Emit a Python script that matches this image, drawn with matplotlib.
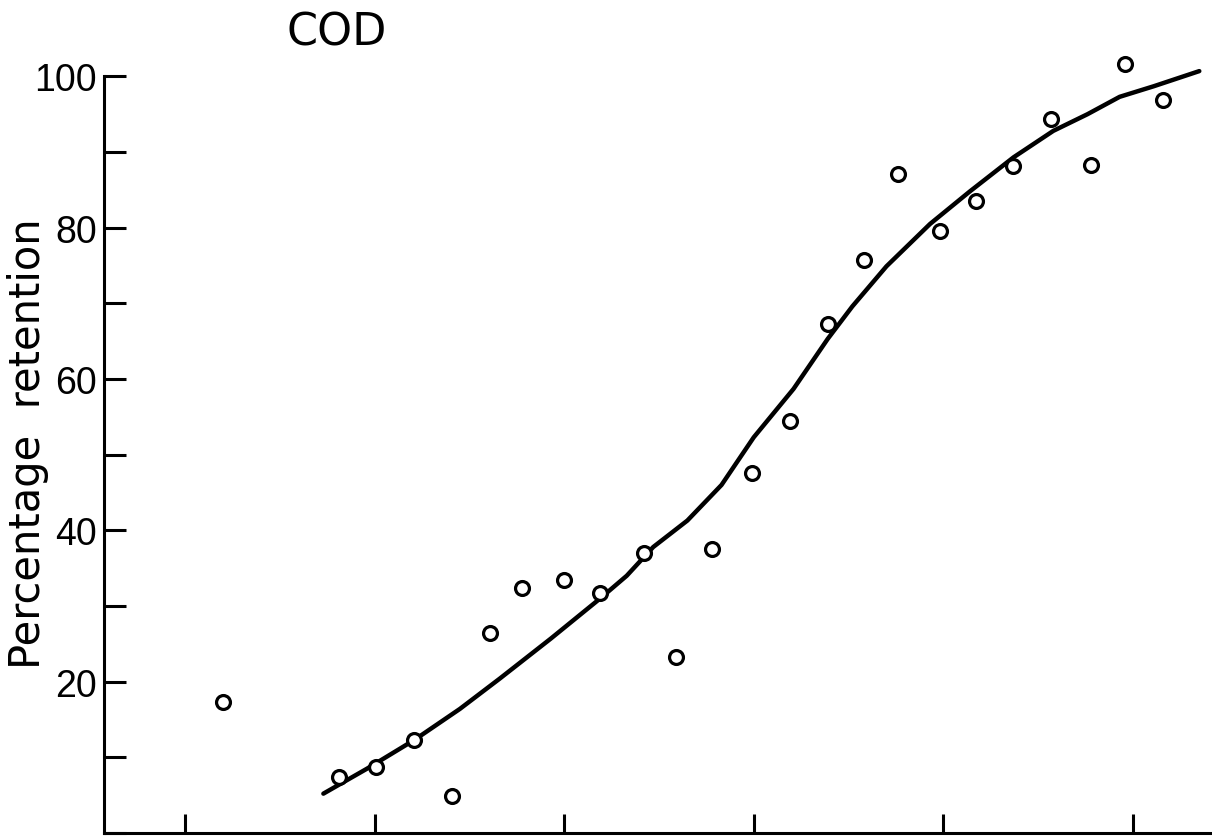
import numpy as np
import matplotlib
matplotlib.use("Agg")
import matplotlib.pyplot as plt
from matplotlib.ticker import MultipleLocator, NullFormatter

# measured points (x in tick units, ticks unlabelled in the original)
obs_x = [1.20, 1.81, 2.01, 2.21, 2.41, 2.61, 2.78, 3.00, 3.19, 3.42, 3.59, 3.78,
         3.99, 4.19, 4.39, 4.58, 4.76, 4.98, 5.17, 5.37, 5.57, 5.78, 5.96, 6.16]
obs_y = [17.3, 7.4, 8.7, 12.3, 4.9, 26.4, 32.4, 33.4, 31.7, 37.0, 23.3, 37.5,
         47.6, 54.4, 67.3, 75.7, 87.1, 79.6, 83.5, 88.1, 94.4, 88.3, 101.6, 96.9]

# fitted curve
fit_x = [1.73, 1.96, 2.21, 2.45, 2.66, 2.93, 3.19, 3.33, 3.47, 3.65, 3.83, 4.00,
         4.21, 4.39, 4.52, 4.70, 4.93, 5.14, 5.37, 5.58, 5.76, 5.93, 6.11, 6.35]
fit_y = [5.2, 8.5, 12.3, 16.4, 20.4, 25.7, 31.0, 34.0, 37.8, 41.3, 46.0, 52.3,
         58.7, 65.3, 69.6, 74.9, 80.5, 84.8, 89.3, 92.8, 95.0, 97.3, 98.7, 100.7]

x_ticks = [1, 2, 3, 4, 5, 6]
y_major = [20, 40, 60, 80, 100]

fig = plt.figure(figsize=(12.12, 8.37), dpi=100)
ax = fig.add_axes([104 / 1212, 3 / 837, 1108 / 1212, 802 / 837])

ax.plot(fit_x, fit_y, color='black', linewidth=3.2,
        solid_capstyle='round', solid_joinstyle='round')
ax.plot(obs_x, obs_y, linestyle='none', marker='o', markersize=10,
        markerfacecolor='white', markeredgecolor='black', markeredgewidth=2.3)

ax.set_xlim(0.573, 6.417)
ax.set_ylim(0, 106)

ax.spines['top'].set_visible(False)
ax.spines['right'].set_visible(False)
ax.spines['left'].set_bounds(0, 100)
for s in ('left', 'bottom'):
    ax.spines[s].set_linewidth(2.2)

ax.set_xticks(x_ticks)
ax.xaxis.set_major_formatter(NullFormatter())
ax.set_yticks(y_major)
ax.yaxis.set_minor_locator(MultipleLocator(10))
ax.yaxis.set_minor_formatter(NullFormatter())

ax.tick_params(axis='x', direction='in', length=14, width=2.2)
ax.tick_params(axis='y', which='both', direction='in', length=16, width=2.2)
ax.tick_params(axis='y', labelsize=27, pad=5)
for lab in ax.get_yticklabels():
    lab.set_family(['Liberation Sans', 'DejaVu Sans'])

fig.text(28 / 1212, 1 - 444 / 837, 'Percentage  retention', rotation=90,
         ha='center', va='center', fontsize=30)
fig.text(337 / 1212, 1 - 33 / 837, 'COD', ha='center', va='center',
         fontsize=32)

fig.savefig('out.png', dpi=100)
